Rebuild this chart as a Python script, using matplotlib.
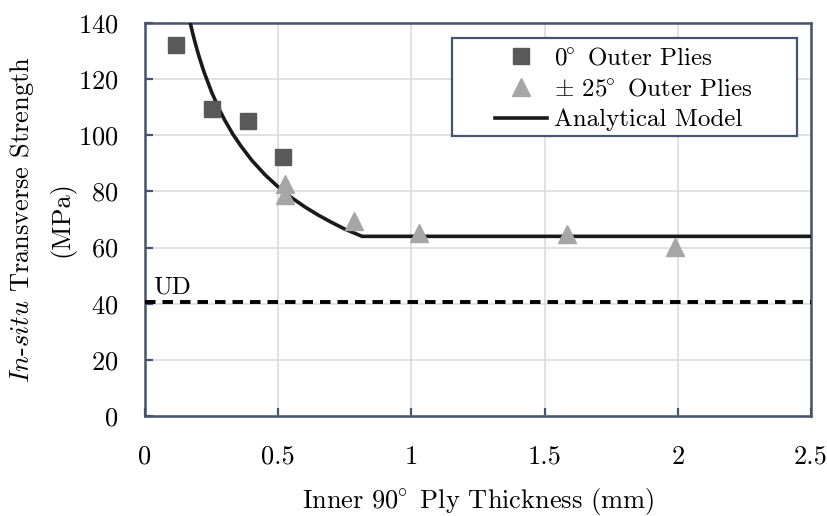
"""
In-situ transverse strength vs. inner 90° ply thickness.
Squares/triangles are test results, solid line is the analytical model,
dashed line is the UD reference strength.
"""

import matplotlib
matplotlib.use("Agg")
import matplotlib.pyplot as plt
from matplotlib.patches import Rectangle

# --- data ---
# 0° outer plies (squares)
x_cero = [0.116, 0.25, 0.387, 0.52]
y_cero = [132.3, 109.3, 105.0, 92.4]

# ±25° outer plies (triangles)
x_25 = [0.525, 0.525, 0.785, 1.03, 1.585, 1.99]
y_25 = [82.5, 78.6, 69.5, 65.2, 64.9, 60.2]

# analytical model, points
x_modelo = [0.17, 0.18, 0.19, 0.20, 0.22, 0.25, 0.28, 0.30, 0.33, 0.36,
            0.40, 0.45, 0.50, 0.55, 0.60, 0.65, 0.70, 0.75, 0.815, 2.5]
y_modelo = [140.0, 136.0, 132.4, 129.0, 123.0, 115.4, 109.0, 105.3, 100.4, 96.2,
            91.2, 86.0, 81.6, 77.8, 74.5, 71.6, 69.0, 66.6, 64.0, 64.0]

# UD reference
y_ud = 40.5

x_ticks = [0, 0.5, 1, 1.5, 2, 2.5]
x_tick_labels = ["0", "0.5", "1", "1.5", "2", "2.5"]
y_ticks = [0, 20, 40, 60, 80, 100, 120, 140]

# --- style ---
plt.rcParams["font.family"] = "serif"
plt.rcParams["font.serif"] = ["cmr10", "DejaVu Serif"]
plt.rcParams["mathtext.fontset"] = "cm"
plt.rcParams["axes.unicode_minus"] = False
plt.rcParams["axes.formatter.use_mathtext"] = True

MARCO = "#44546a"
GRILLA = "#d9d9d9"
FS = 19

fig = plt.figure(figsize=(8.27, 5.16), dpi=100)
ax = fig.add_axes([0.1753, 0.1938, 0.8053, 0.7616])

ax.plot(x_cero, y_cero, linestyle="none", marker="s", markersize=11.5,
        color="#595959", label=r"$0^{\!\!\circ}$ Outer Plies", zorder=4)
ax.plot(x_25, y_25, linestyle="none", marker="^", markersize=13,
        color="#a6a6a6", label=r"$\pm$ $25^{\!\!\circ}$ Outer Plies", zorder=4)
ax.plot(x_modelo, y_modelo, color="#1a1a1a", lw=2.6,
        label="Analytical Model", zorder=3)

# linea UD punteada de punta a punta
ax.plot([x_ticks[0], x_ticks[-1]], [y_ud, y_ud], color="black", lw=2.8,
        linestyle=(0, (2.7, 1.8)), zorder=3)
ax.text(0.03, y_ud + 1.2, "UD", fontsize=FS - 1, ha="left", va="bottom")

ax.set_xlim(0, 2.5)
ax.set_ylim(0, 140)
ax.set_xticks(x_ticks)
ax.set_xticklabels(x_tick_labels)
ax.set_yticks(y_ticks)

ax.grid(True, color=GRILLA, lw=1.1)
ax.set_axisbelow(True)

for s in ax.spines.values():
    s.set_color(MARCO)
    s.set_linewidth(1.8)

ax.tick_params(axis="both", direction="in", length=6, width=1.6,
               color=MARCO, labelsize=FS, top=False, right=False)
ax.tick_params(axis="x", pad=21)
ax.tick_params(axis="y", pad=19)

ax.set_xlabel(r"Inner $90^{\!\!\circ}$ Ply Thickness (mm)", fontsize=FS, labelpad=12)
ax.set_ylabel(r"$\mathit{In}$-$\mathit{situ}$ Transverse Strength" + "\n(MPa)",
              fontsize=FS, linespacing=1.6, labelpad=2)

# el recuadro de la leyenda es mas ancho que su contenido (estilo Excel),
# asi que lo dibujamos aparte y la leyenda va sin marco adentro
marco_leg = Rectangle((0.461, 0.712), 0.518, 0.250, transform=ax.transAxes,
                      facecolor="white", edgecolor=MARCO, lw=1.6, zorder=5)
ax.add_patch(marco_leg)
leg = ax.legend(loc="upper left", bbox_to_anchor=(0.5255, 0.938),
                fontsize=FS - 1, numpoints=1, frameon=False,
                handlelength=2.1, handletextpad=0.25, borderaxespad=0,
                borderpad=0, labelspacing=0.33)
leg.set_zorder(6)

fig.savefig("out.png", dpi=100, facecolor="white")
